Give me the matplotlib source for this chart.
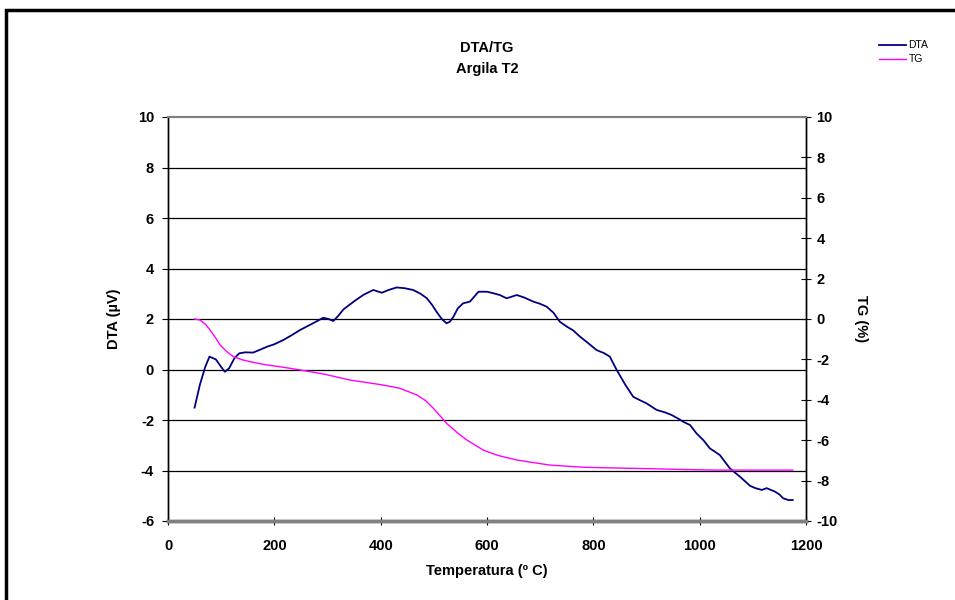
import matplotlib.pyplot as plt
import matplotlib.patches as patches

plt.rcParams['font.family'] = ['Liberation Sans', 'DejaVu Sans']
plt.rcParams['axes.unicode_minus'] = False

# DTA curve (temperature in C, signal in uV)
dta_temp = [50, 60, 70, 78, 90, 100, 107, 115, 125, 134, 145, 160, 175, 186, 200, 217,
            232, 248, 270, 292, 302, 311, 320, 330, 350, 367, 386, 402, 415, 430, 445,
            461, 475, 487, 497, 505, 515, 524, 530, 537, 545, 555, 568, 584, 600, 612,
            624, 637, 656, 670, 687, 700, 712, 725, 737, 750, 762, 775, 790, 806, 820,
            831, 844, 860, 875, 888, 900, 919, 935, 947, 960, 969, 982, 994, 1007, 1019,
            1038, 1057, 1076, 1095, 1105, 1117, 1126, 1142, 1150, 1157, 1167, 1175]
dta_val = [-1.51, -0.6, 0.1, 0.51, 0.4, 0.1, -0.09, 0.05, 0.45, 0.64, 0.68, 0.67, 0.8, 0.9,
           1.0, 1.17, 1.35, 1.56, 1.8, 2.05, 2.0, 1.92, 2.12, 2.38, 2.7, 2.95, 3.15, 3.04,
           3.15, 3.25, 3.22, 3.15, 3.0, 2.82, 2.55, 2.29, 2.0, 1.83, 1.89, 2.09, 2.42, 2.62,
           2.69, 3.08, 3.08, 3.02, 2.95, 2.82, 2.95, 2.85, 2.69, 2.6, 2.49, 2.25, 1.89, 1.7,
           1.55, 1.3, 1.05, 0.77, 0.65, 0.51, -0.02, -0.6, -1.08, -1.22, -1.34, -1.6, -1.7,
           -1.8, -1.95, -2.07, -2.2, -2.53, -2.8, -3.12, -3.39, -3.92, -4.25, -4.61, -4.7,
           -4.77, -4.7, -4.84, -4.95, -5.1, -5.17, -5.17]

# TG curve (temperature in C, mass change in %)
tg_temp = [50, 60, 70, 79, 90, 98, 110, 123, 140, 154, 180, 217, 248, 292, 342, 405, 436,
           468, 485, 499, 512, 524, 530, 545, 562, 593, 620, 656, 690, 718, 781, 850, 906,
           970, 1032, 1100, 1175]
tg_val = [0.0, -0.05, -0.25, -0.54, -0.95, -1.29, -1.6, -1.87, -2.02, -2.11, -2.25, -2.39,
          -2.52, -2.72, -3.02, -3.27, -3.43, -3.76, -4.05, -4.42, -4.8, -5.17, -5.3, -5.65,
          -5.99, -6.49, -6.75, -6.98, -7.12, -7.23, -7.34, -7.38, -7.41, -7.45, -7.48,
          -7.48, -7.48]

fig = plt.figure(figsize=(9.55, 6.0), dpi=100)
ax = fig.add_axes([168 / 955, 1 - 521 / 600, (806 - 168) / 955, (521 - 117) / 600])
ax2 = ax.twinx()

# outer frame of the chart
frame = patches.Rectangle((6 / 955, -0.05), 1.2, 1 - 10 / 600 + 0.05, transform=fig.transFigure,
                          fill=False, edgecolor='black', linewidth=2.5)
fig.patches.append(frame)

for v in range(-4, 10, 2):
    ax.axhline(v, color='black', linewidth=0.9, zorder=0)

dta_line, = ax.plot(dta_temp, dta_val, color='#000080', linewidth=1.3, label='DTA')
tg_line, = ax2.plot(tg_temp, tg_val, color='#FF00FF', linewidth=1.0, label='TG')

ax.set_xlim(0, 1200)
ax.set_ylim(-6, 10)
ax2.set_ylim(-10, 10)
ax.set_xticks(range(0, 1201, 200))
ax.set_yticks(range(-6, 11, 2))
ax2.set_yticks(range(-10, 11, 2))

for a in (ax, ax2):
    a.spines['top'].set_color('#808080')
    a.spines['bottom'].set_color('#808080')
    a.spines['top'].set_linewidth(1.5)
    a.spines['bottom'].set_linewidth(2.5)
    a.spines['left'].set_linewidth(1.0)
    a.spines['right'].set_linewidth(1.0)

ax.tick_params(axis='y', direction='out', length=4, labelsize=10.5, pad=6)
ax.tick_params(axis='x', direction='inout', length=6, labelsize=10.5, pad=10)
ax2.tick_params(axis='y', direction='inout', length=7, labelsize=10.5, pad=4)
for lbl in ax.get_xticklabels() + ax.get_yticklabels() + ax2.get_yticklabels():
    lbl.set_fontweight('bold')

ax.set_xlabel('Temperatura (º C)', fontsize=10.5, fontweight='bold', labelpad=8)
ax.set_ylabel('DTA (µV)', fontsize=10.5, fontweight='bold', labelpad=12)
ax2.set_ylabel('TG (%)', fontsize=10.5, fontweight='bold', rotation=270, labelpad=22)
ax.set_title('DTA/TG\nArgila T2', fontsize=10.5, fontweight='bold', pad=32, linespacing=1.6)

fig.legend(handles=[dta_line, tg_line], loc='upper left', bbox_to_anchor=(874 / 955, 1 - 35 / 600),
           frameon=False, fontsize=7.5, handlelength=2.6, handletextpad=0.2,
           labelspacing=0.4, borderpad=0)

fig.savefig('out.png', dpi=100)
